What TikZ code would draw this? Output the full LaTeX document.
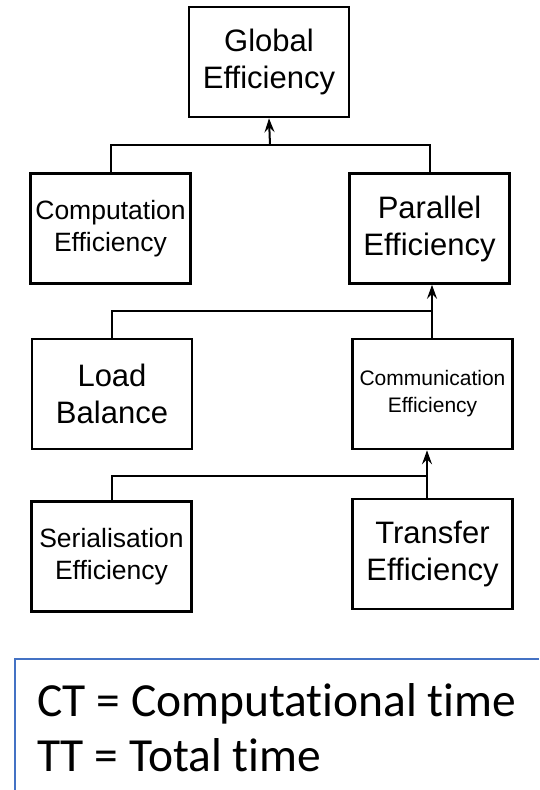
\documentclass[tikz,border=0pt]{standalone}
\usepackage{fontspec}
\usepackage{xcolor}
\usepackage{tikz}
\usetikzlibrary{arrows.meta, positioning, calc}
\newfontfamily\diagfont{Liberation Sans}
\newfontfamily\legfont[Ligatures={NoCommon, NoContextual}]{Carlito}
\definecolor{legblue}{HTML}{4472C4}
\tikzset{%
	effbox/.style={draw, rectangle, line width=2.6pt, minimum width=160pt, minimum height=110pt,%
		inner sep=0pt, align=center},
	big/.style={font=\diagfont\fontsize{31}{37}\selectfont},
	mid/.style={font=\diagfont\fontsize{26.5}{32}\selectfont},
	small/.style={font=\diagfont\fontsize{21}{27}\selectfont},
	link/.style={line width=2pt},
	sel/.style={->, >={Stealth[length=14pt, width=10pt, inset=5pt]}, line width=2pt},
	legend/.style={draw=legblue, line width=2pt}
}
\begin{document}
\begin{tikzpicture}[x=1pt, y=-1pt]
	\useasboundingbox (0,0) rectangle (539,790);

	\node[effbox, big] (glob) at (269,62) {Global\\Efficiency};
	\node[effbox, mid] (comp) at (110.5,228.5) {Computation\\Efficiency};
	\node[effbox, big] (par) at (429.5,228.5) {Parallel\\Efficiency};
	\node[effbox, big] (load) at (112,394) {Load\\Balance};
	\node[effbox, small] (comm) at (432.5,394) {Communication\\Efficiency};
	\node[effbox, mid] (ser) at (111.5,556.5) {Serialisation\\Efficiency};
	\node[effbox, big] (trans) at (432.5,554) {Transfer\\Efficiency};

	\coordinate (j1) at (270,145);
	\coordinate (j2) at (432,311);
	\coordinate (j3) at (427,476);

	\draw[link] (comp.north) |- (j1) -| (par.north);
	\draw[sel] (j1) to (glob.south);
	\draw[link] (load.north) |- (j2);
	\draw[link] (comm.north -| j2) to (j2);
	\draw[sel] (j2) to (j2 |- par.south);
	\draw[link] (ser.north) |- (j3);
	\draw[link] (trans.north -| j3) to (j3);
	\draw[sel] (j3) to (j3 |- comm.south);

	% legend
	\coordinate (lgb) at (15,790);
	\coordinate (lgt) at (15,659);
	\coordinate (lge) at (539,659);
	\draw[legend] (lgb) -- (lgt) -- (lge);
	\node[anchor=north west, inner sep=0pt, align=left,
		font=\legfont\fontsize{47.5}{55}\selectfont] (key) at (37,683)
		{CT = Computational time\\TT = Total time};
\end{tikzpicture}
\end{document}
